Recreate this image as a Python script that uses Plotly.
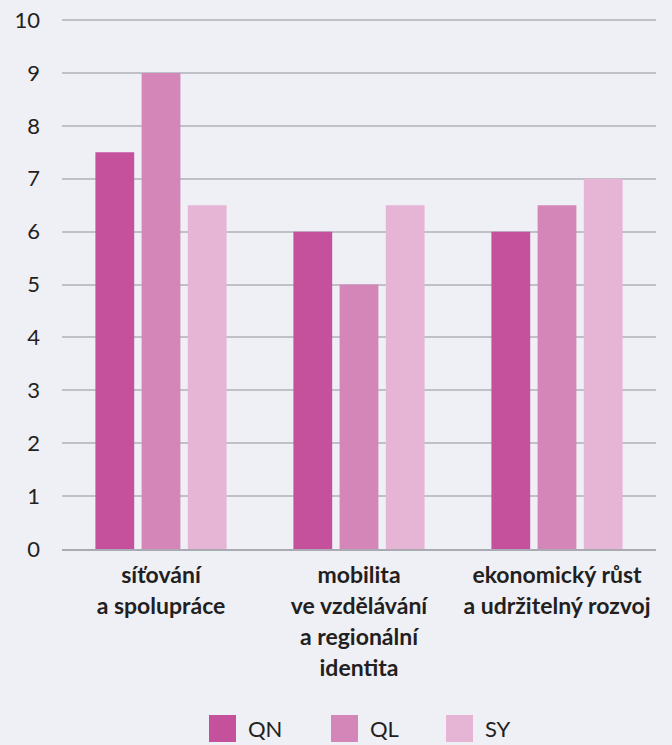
import plotly.graph_objects as go

categories = ["síťování<br>a spolupráce",
              "mobilita<br>ve vzdělávání<br>a regionální<br>identita",
              "ekonomický růst<br>a udržitelný rozvoj"]
series_names = ["QN", "QL", "SY"]
qn = [7.5, 6, 6]
ql = [9, 5, 6.5]
sy = [6.5, 6.5, 7]
colors = ["#c5509c", "#d386b7", "#e6b5d6"]
y_ticks = [0, 1, 2, 3, 4, 5, 6, 7, 8, 9, 10]

W, H = 672, 745
L, R, T, B = 62, 16, 19, 196
BG = "#eff0f6"
FONT = "Lato"
TXT = "#231f20"

def small(s, px=23):
    return "<br>".join(f'<span style="font-size:{px}px">{p}</span>' for p in s.split("<br>"))

cat_labels = [small(c) for c in categories]

fig = go.Figure()
for name, vals, col in zip(series_names, [qn, ql, sy], colors):
    fig.add_trace(go.Bar(x=cat_labels, y=vals, name=name, marker_color=col,
                         marker_line_width=0, showlegend=False))

fig.update_layout(
    width=W, height=H,
    margin=dict(l=L, r=R, t=T, b=B),
    paper_bgcolor=BG, plot_bgcolor=BG,
    barmode="group", bargap=0.30, bargroupgap=0.16,
    font=dict(family=FONT, color=TXT, size=20),
)
fig.update_yaxes(range=[0, 10.02], tickvals=y_ticks, showgrid=True, automargin=False,
                 gridcolor="#bfc0c8", gridwidth=1.5, zeroline=False,
                 showline=False, ticks="", ticklabelstandoff=21,
                 tickfont=dict(family=FONT, size=22, color=TXT))
fig.update_xaxes(showline=True, linecolor="#a9aab2", linewidth=1.5, automargin=False,
                 ticks="", ticklabelstandoff=3,
                 tickfont=dict(family=FONT, size=24, color=TXT, weight="bold"))

# manual legend (large squares)
pw, ph = W - L - R, H - T - B
def px_x(x): return (x - L) / pw
def px_y(y): return (H - B - y) / ph
sq_x = [209, 331, 446]
sq = 27
cy = 728.5
for name, col, x0 in zip(series_names, colors, sq_x):
    fig.add_shape(type="rect", xref="paper", yref="paper",
                  x0=px_x(x0), x1=px_x(x0 + sq), y0=px_y(cy + sq / 2), y1=px_y(cy - sq / 2),
                  fillcolor=col, line_width=0)
    fig.add_annotation(xref="paper", yref="paper", x=px_x(x0 + sq + 10), y=px_y(cy),
                       text=name, showarrow=False, xanchor="left", yanchor="middle",
                       font=dict(family=FONT, size=22, color=TXT))

fig.write_html("out.html")
